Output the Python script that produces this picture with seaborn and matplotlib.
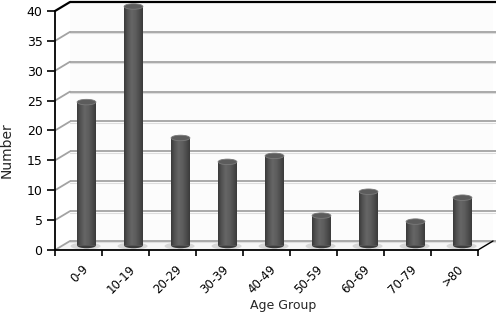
import numpy as np
import pandas as pd
import matplotlib
matplotlib.use("Agg")
import matplotlib.pyplot as plt
import matplotlib.transforms as mtransforms
from matplotlib.patches import Polygon, Ellipse
from matplotlib.colors import LinearSegmentedColormap
import seaborn as sns

# ---- data ----
categories = ["0-9", "10-19", "20-29", "30-39", "40-49", "50-59", "60-69", "70-79", ">80"]
values = [24, 40, 18, 14, 15, 5, 9, 4, 8]
y_ticks = [0, 5, 10, 15, 20, 25, 30, 35, 40]
x_title = "Age Group"
y_title = "Number"

sns.set_theme(style="white")
plt.rcParams["font.family"] = ["DejaVu Sans"]

W, H, DPI = 496, 314, 100
fig = plt.figure(figsize=(W / DPI, H / DPI), dpi=DPI)
fig.patch.set_facecolor("white")
ax = fig.add_axes([55 / W, 64 / H, 423 / W, 239 / H])
ax.set_facecolor("none")

df = pd.DataFrame({"group": categories, "count": values})
ax.set_xlim(-0.5, len(categories) - 0.5)
ax.set_ylim(0, 40)

# pixel -> data unit helpers for the pseudo 3-D depth
px_x = (len(categories)) / 423.0
px_y = 40 / 239.0
dxb, dyb = 15 * px_x, 9 * px_y          # back wall offset (data units)

x0, x1 = -0.5, len(categories) - 0.5

# back wall
wall = Polygon([(x0 + dxb, dyb), (x1 + dxb, dyb), (x1 + dxb, 40 + dyb), (x0 + dxb, 40 + dyb)],
               closed=True, facecolor="#fcfcfc", edgecolor="none", zorder=0, clip_on=False)
ax.add_patch(wall)
# floor
floor = Polygon([(x0, 0), (x1, 0), (x1 + dxb, dyb), (x0 + dxb, dyb)], closed=True,
                facecolor="#f6f6f6", edgecolor="none", zorder=1, clip_on=False)
ax.add_patch(floor)

# gridlines on back wall + slanted lines on the left wall
for v in y_ticks:
    col = "black" if v == 40 else "#a3a3a3"
    lw = 1.6 if v == 40 else 1.3
    ax.plot([x0 + dxb, x1 + dxb + 0.1], [v + dyb, v + dyb], color=col, lw=lw,
            zorder=1.2, clip_on=False, solid_capstyle="butt")
    if v < 40:
        ax.plot([x0 + dxb, x1 + dxb + 0.1], [v + dyb - 0.25, v + dyb - 0.25], color="#dedede",
                lw=0.8, zorder=1.1, clip_on=False)
    ax.plot([x0, x0 + dxb], [v, v + dyb], color=col, lw=lw, zorder=1.2, clip_on=False)
# right edge of floor
ax.plot([x1, x1 + dxb], [0, dyb], color="black", lw=1.0, zorder=2, clip_on=False)

# bars (cylinders)
n_fixed = len(ax.patches)
sns.barplot(data=df, x="group", y="count", color="#555555", width=0.4, ax=ax,
            saturation=1, edgecolor="none", zorder=3)
ax.set_xlim(-0.5, len(categories) - 0.5)
ax.set_ylim(0, 40)

bar_off = mtransforms.ScaledTranslation(8 / DPI, 4.5 / DPI, fig.dpi_scale_trans)
cyl_cmap = LinearSegmentedColormap.from_list(
    "cyl", ["#3a3a3a", "#545454", "#666666", "#5e5e5e", "#4e4e4e", "#3a3a3a"])
grad = np.linspace(0, 1, 64).reshape(1, -1)
ell_h = 5.5 * px_y
bars = list(ax.patches[n_fixed:])
for p in bars:
    p.set_transform(ax.transData + bar_off)
    p.set_clip_on(False)
    bx, bw, bh = p.get_x(), p.get_width(), p.get_height()
    # soft floor shadow
    sh = Ellipse((bx + bw / 2 - 0.02, -0.1), bw * 1.6, ell_h * 1.3, facecolor="#d0d0d0",
                 edgecolor="none", alpha=0.8, transform=ax.transData + bar_off, zorder=1.5,
                 clip_on=False)
    ax.add_patch(sh)
    # bottom ellipse
    e0 = Ellipse((bx + bw / 2, 0), bw * 1.0, ell_h, facecolor="#3c3c3c", edgecolor="none",
                 transform=ax.transData + bar_off, zorder=2.9, clip_on=False)
    ax.add_patch(e0)
    im = ax.imshow(grad, cmap=cyl_cmap, aspect="auto", extent=(bx, bx + bw, 0, bh),
                   transform=ax.transData + bar_off, zorder=3.1, interpolation="bilinear")
    im.set_clip_path(p)
    e1 = Ellipse((bx + bw / 2, bh), bw, ell_h, facecolor="#5c5c5c", edgecolor="#7a7a7a",
                 lw=0.6, transform=ax.transData + bar_off, zorder=3.2, clip_on=False)
    ax.add_patch(e1)
ax.set_xlim(-0.5, len(categories) - 0.5)
ax.set_ylim(0, 40)

# axes styling
for s in ["top", "right"]:
    ax.spines[s].set_visible(False)
for s in ["left", "bottom"]:
    ax.spines[s].set_color("black")
    ax.spines[s].set_linewidth(1.3)
    ax.spines[s].set_zorder(5)

ax.set_yticks(y_ticks)
ax.set_yticklabels([str(v) for v in y_ticks], fontsize=9, color="black")
ax.tick_params(axis="y", direction="out", length=6, width=1.2, color="black", pad=3, left=True)

ax.set_xticks(range(len(categories)))
ax.set_xticklabels(categories, fontsize=8.5, rotation=45, ha="right", rotation_mode="anchor",
                   color="black")
ax.set_xticks(np.arange(-0.5, len(categories), 1), minor=True)
ax.tick_params(axis="x", which="major", length=0, pad=9)
ax.tick_params(axis="x", which="minor", direction="out", length=4, width=1.2, color="black",
               bottom=True)
lab_off = mtransforms.ScaledTranslation(3 / DPI, 0, fig.dpi_scale_trans)
for lab in ax.get_xticklabels():
    lab.set_transform(lab.get_transform() + lab_off)

ax.set_xlabel("")
ax.set_ylabel("")
fig.text(283 / W, 1 - 306 / H, x_title, ha="center", va="center", fontsize=9)
fig.text(7 / W, 1 - 150 / H, y_title, ha="center", va="center", fontsize=10, rotation=90)

fig.savefig("out.png", dpi=DPI, facecolor="white")
